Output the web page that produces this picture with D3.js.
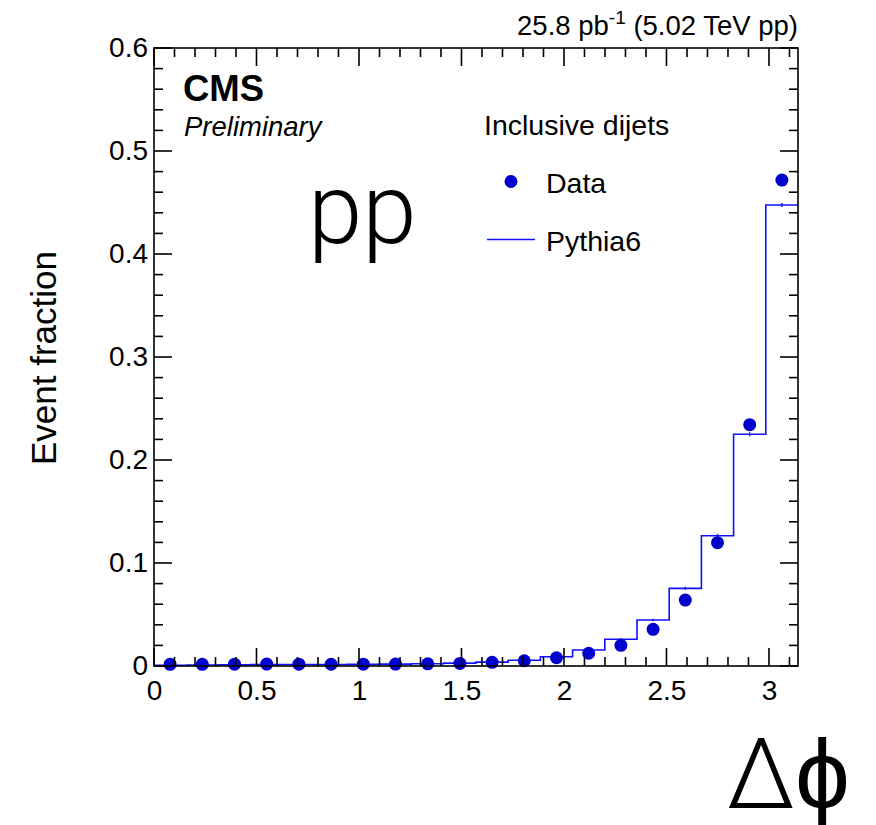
<!DOCTYPE html>
<html>
<head>
<meta charset="utf-8">
<script src="https://cdn.jsdelivr.net/npm/d3@7"></script>
<style>
  html, body { margin: 0; padding: 0; background: #fff; }
  svg { display: block; font-family: "Liberation Sans", Arial, Helvetica, sans-serif; }
</style>
</head>
<body>
<svg id="chart" width="876" height="825"></svg>
<script>
// Dijet azimuthal separation, pp at 5.02 TeV: 20 equal bins over [0, pi]
const nBins = 20;
const dataValues = [0.0016, 0.0016, 0.0018, 0.0019, 0.0018, 0.0017, 0.0018, 0.0019, 0.0021, 0.0025,
                    0.0036, 0.0051, 0.0080, 0.0124, 0.0201, 0.0356, 0.0640, 0.1197, 0.2343, 0.4718];
const pythiaValues = [0.0008, 0.0009, 0.0012, 0.0013, 0.0014, 0.0015, 0.0016, 0.0018, 0.0022, 0.0028,
                      0.0038, 0.0056, 0.0090, 0.0155, 0.0259, 0.0447, 0.0754, 0.1265, 0.2250, 0.4476];
const pythiaErr = [0.0002, 0.0002, 0.0002, 0.0002, 0.0002, 0.0002, 0.0002, 0.0002, 0.0003, 0.0003,
                   0.0004, 0.0005, 0.0006, 0.0008, 0.0010, 0.0012, 0.0015, 0.0018, 0.0020, 0.0020];
const xTickLabels = ["0", "0.5", "1", "1.5", "2", "2.5", "3"];
const yTickLabels = ["0", "0.1", "0.2", "0.3", "0.4", "0.5", "0.6"];

const svg = d3.select("#chart");
const padL = 154, padR = 798, padT = 48, padB = 666;

const x = d3.scaleLinear().domain([0, Math.PI]).range([padL, padR]);
const y = d3.scaleLinear().domain([0, 0.6]).range([padB, padT]);
const binW = Math.PI / nBins;

const blueData = "#0000cc";
const blueMC = "#1010ff";

// Pythia6 histogram as a step outline
const steps = [];
pythiaValues.forEach((v, i) => {
  steps.push([i * binW, v]);
  steps.push([(i + 1) * binW, v]);
});
svg.append("path")
  .attr("d", d3.line().x(d => x(d[0])).y(d => y(d[1]))(steps))
  .attr("fill", "none").attr("stroke", blueMC).attr("stroke-width", 1.6);

// small MC stat error marks at bin centres
svg.append("g").selectAll("line").data(pythiaValues).join("line")
  .attr("x1", (d, i) => x((i + 0.5) * binW)).attr("x2", (d, i) => x((i + 0.5) * binW))
  .attr("y1", (d, i) => y(d - pythiaErr[i])).attr("y2", (d, i) => y(d + pythiaErr[i]))
  .attr("stroke", blueMC).attr("stroke-width", 1.4);

// Data points
svg.append("g").selectAll("circle").data(dataValues).join("circle")
  .attr("cx", (d, i) => x((i + 0.5) * binW))
  .attr("cy", d => y(d))
  .attr("r", 6.5)
  .attr("fill", blueData);

// Frame with ROOT-style ticks on all four sides
const frame = svg.append("g").attr("stroke", "#000").attr("stroke-width", 1.6);
const xMinor = d3.range(0, 3.15, 0.1).filter(v => v <= Math.PI);
const yMinor = d3.range(0, 0.601, 0.02);
const isMajorX = v => Math.abs(v * 2 - Math.round(v * 2)) < 1e-6;
const isMajorY = v => Math.abs(v * 10 - Math.round(v * 10)) < 1e-6;

xMinor.forEach(v => {
  const len = isMajorX(v) ? 18 : 9;
  frame.append("line").attr("x1", x(v)).attr("x2", x(v)).attr("y1", padB).attr("y2", padB - len);
  frame.append("line").attr("x1", x(v)).attr("x2", x(v)).attr("y1", padT).attr("y2", padT + len);
});
yMinor.forEach(v => {
  const len = isMajorY(v) ? 18 : 9;
  frame.append("line").attr("x1", padL).attr("x2", padL + len).attr("y1", y(v)).attr("y2", y(v));
  frame.append("line").attr("x1", padR).attr("x2", padR - len).attr("y1", y(v)).attr("y2", y(v));
});
frame.append("rect").attr("x", padL).attr("y", padT)
  .attr("width", padR - padL).attr("height", padB - padT).attr("fill", "none");

// Axis labels
const xAxis = d3.axisBottom(x).tickValues(xTickLabels.map(Number)).tickFormat((d, i) => xTickLabels[i]).tickSize(0).tickPadding(14);
const gx = svg.append("g").attr("transform", `translate(0,${padB})`).call(xAxis);
gx.select(".domain").remove();
gx.selectAll("text").attr("font-size", 28).attr("fill", "#000").attr("font-family", "Liberation Sans, Arial, sans-serif");

const yAxis = d3.axisLeft(y).tickValues(yTickLabels.map(Number)).tickFormat((d, i) => yTickLabels[i]).tickSize(0).tickPadding(6);
const gy = svg.append("g").attr("transform", `translate(${padL},0)`).call(yAxis);
gy.select(".domain").remove();
gy.selectAll("text").attr("font-size", 28).attr("fill", "#000").attr("font-family", "Liberation Sans, Arial, sans-serif");

svg.append("text")
  .attr("transform", `translate(56,358) rotate(-90)`)
  .attr("text-anchor", "middle").attr("font-size", 35).text("Event fraction");

svg.append("text")
  .attr("x", 850).attr("y", 808).attr("text-anchor", "end")
  .attr("font-size", 98).attr("font-weight", 300)
  .attr("font-family", "Roboto, Liberation Sans, sans-serif")
  .text("Δϕ");

// Header
const hdr = svg.append("text").attr("x", padR).attr("y", 35).attr("text-anchor", "end").attr("font-size", 27.5);
hdr.append("tspan").text("25.8 pb");
hdr.append("tspan").attr("dy", -11).attr("font-size", 19).text("-1");
hdr.append("tspan").attr("dy", 11).text(" (5.02 TeV pp)");

svg.append("text").attr("x", 183).attr("y", 101).attr("font-size", 36.5).attr("font-weight", "bold").text("CMS");
svg.append("text").attr("x", 184).attr("y", 136).attr("font-size", 27.5).attr("font-style", "italic").text("Preliminary");

svg.append("text").attr("x", 308).attr("y", 243)
  .attr("font-size", 98).attr("font-weight", 300)
  .attr("font-family", "Roboto, Liberation Sans, sans-serif").text("pp");

// Legend
svg.append("text").attr("x", 484).attr("y", 135).attr("font-size", 28.5).text("Inclusive dijets");
svg.append("circle").attr("cx", 511).attr("cy", 181.5).attr("r", 6.5).attr("fill", blueData);
svg.append("text").attr("x", 546).attr("y", 193).attr("font-size", 28.5).text("Data");
svg.append("line").attr("x1", 487).attr("x2", 535).attr("y1", 239.5).attr("y2", 239.5)
  .attr("stroke", blueMC).attr("stroke-width", 1.6);
svg.append("text").attr("x", 546).attr("y", 251).attr("font-size", 28.5).text("Pythia6");
</script>
</body>
</html>
